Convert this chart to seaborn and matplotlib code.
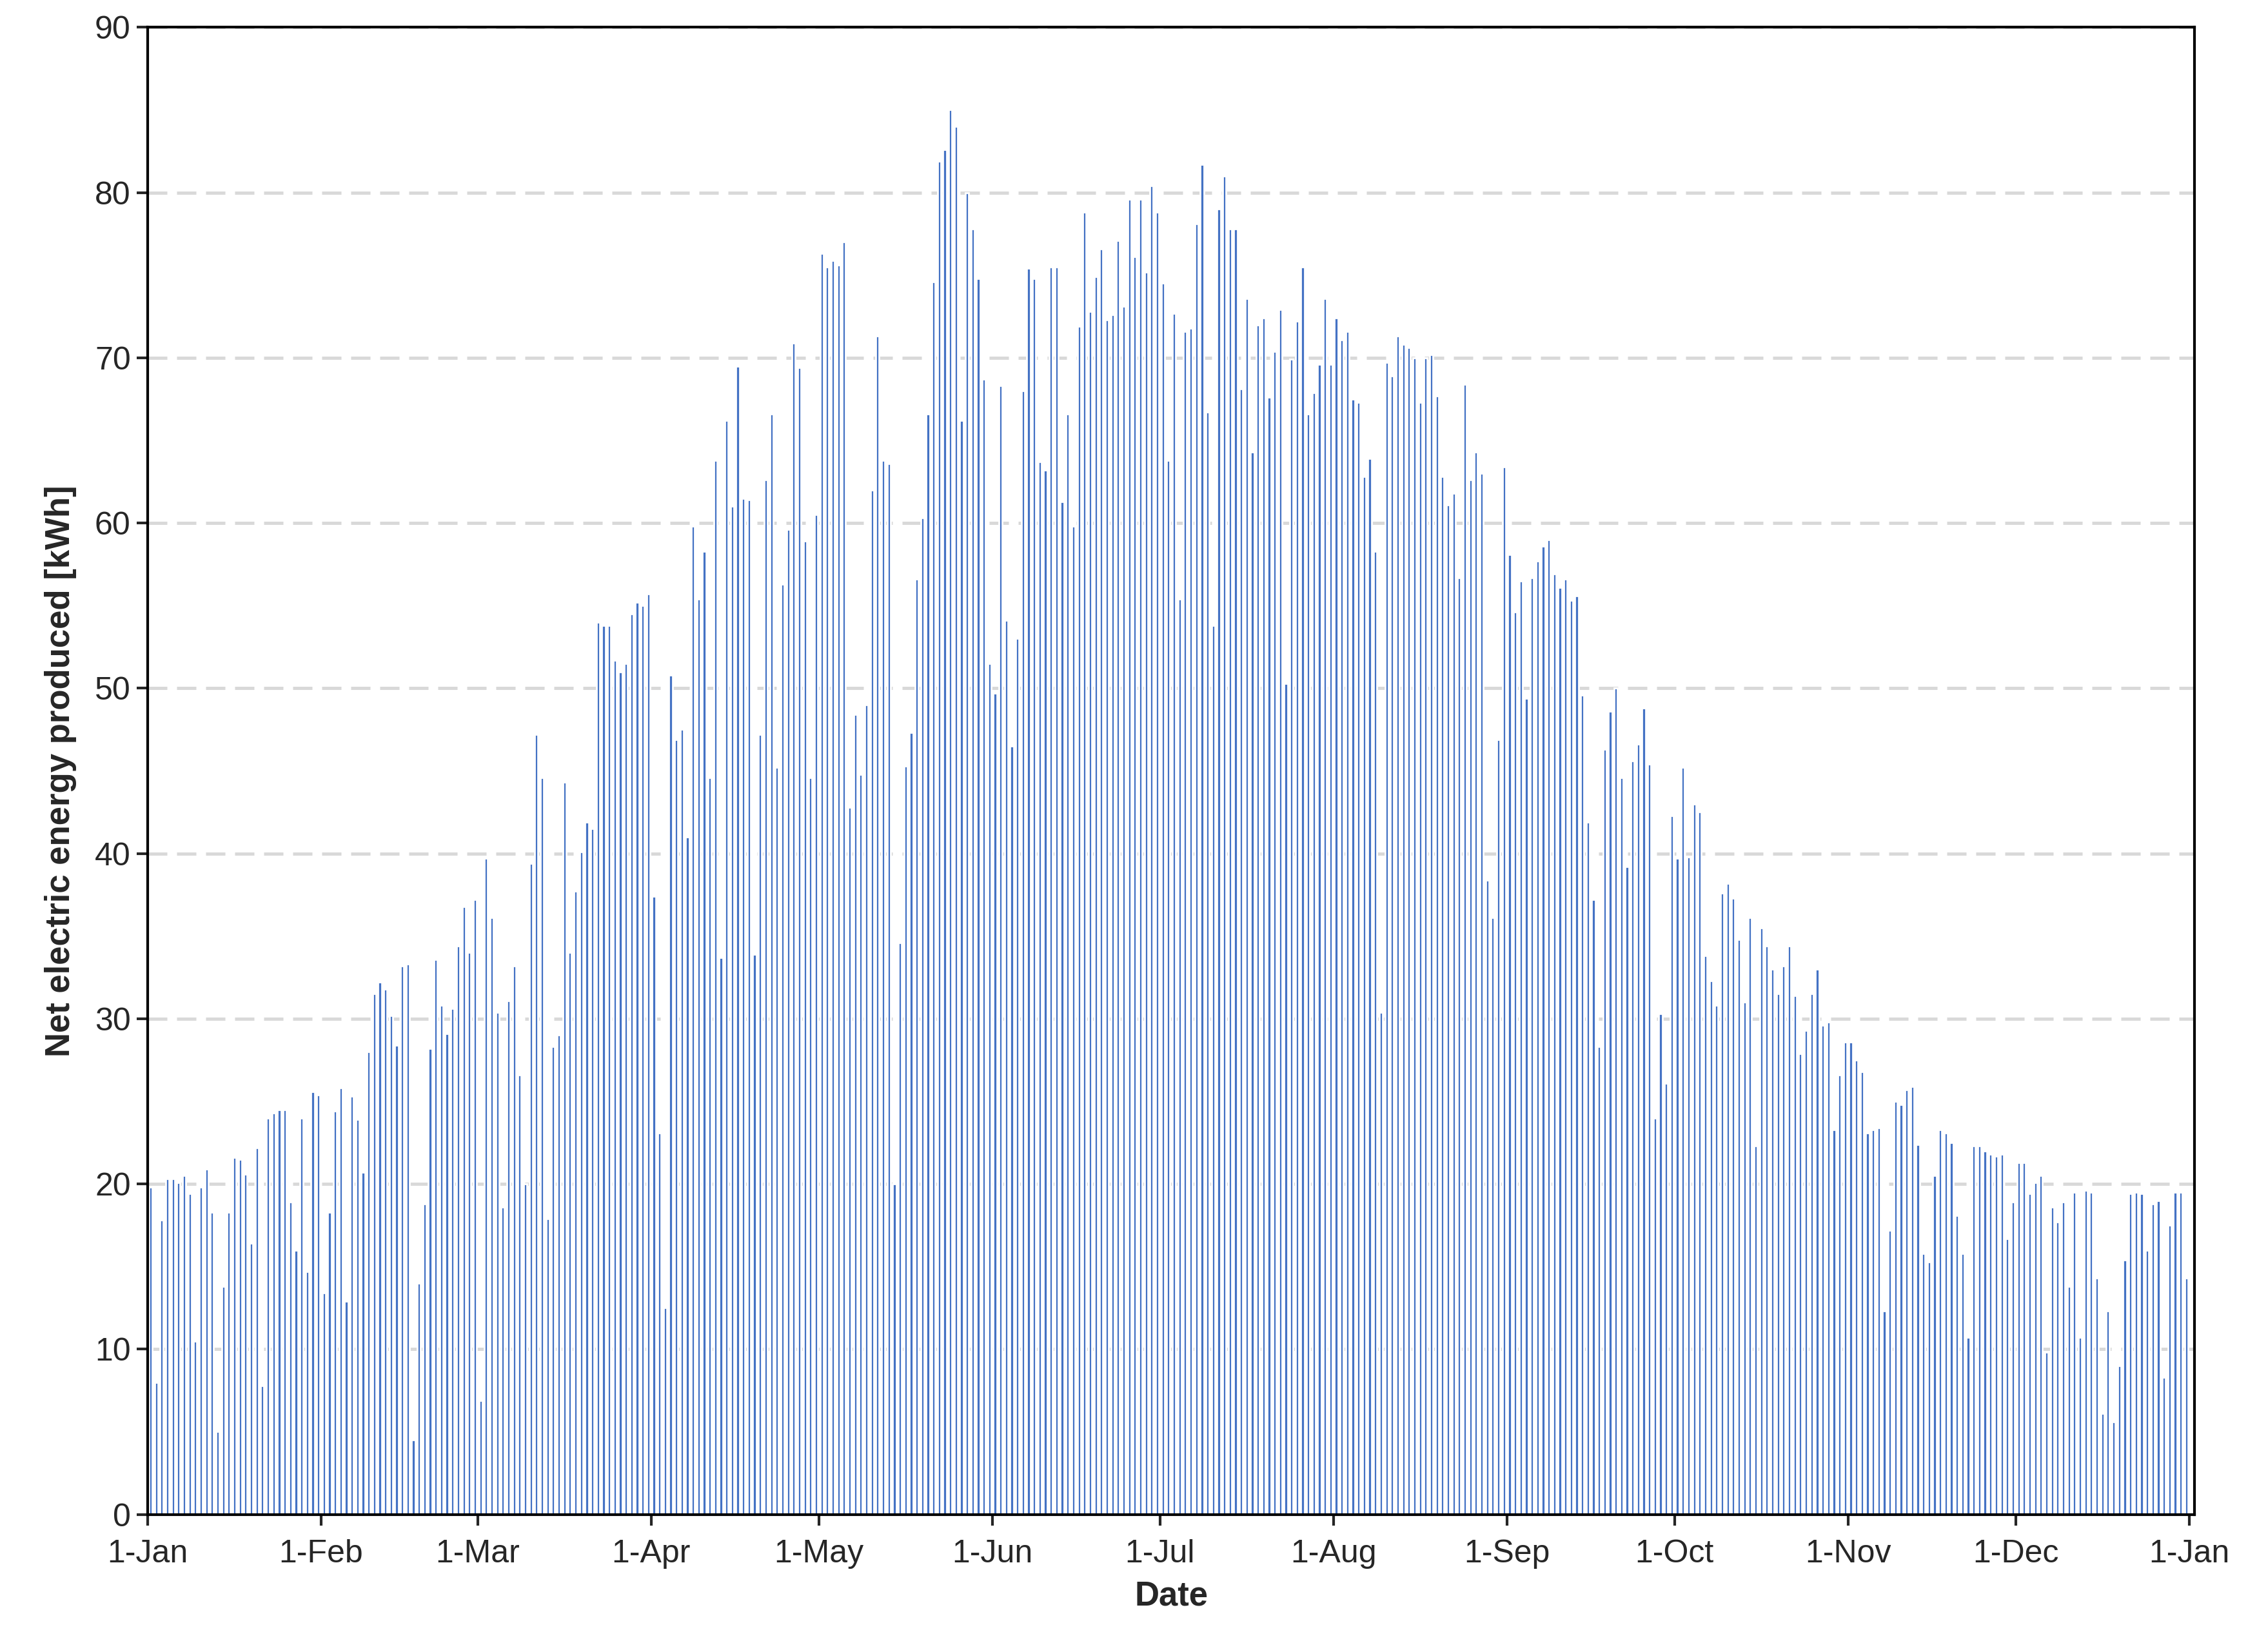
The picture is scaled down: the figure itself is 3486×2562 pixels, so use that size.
import numpy as np
import pandas as pd
import matplotlib
matplotlib.use("Agg")
import matplotlib.pyplot as plt
import seaborn as sns

jan = [19.8, 8, 17.8, 20.3, 20.3, 20.1, 20.5, 19.4, 10.5, 19.8, 20.9, 18.3, 5, 13.8, 18.3, 21.6, 21.5, 20.6, 16.4, 22.2, 7.8, 24, 24.3, 24.5, 24.5, 18.9, 16, 24, 14.7, 25.6, 25.4]
feb = [13.4, 18.3, 24.4, 25.8, 12.9, 25.3, 23.9, 20.7, 28, 31.5, 32.2, 31.8, 30.2, 28.4, 33.2, 33.3, 4.5, 14, 18.8, 28.2, 33.6, 30.8, 29.1, 30.6, 34.4, 36.8, 34, 37.2]
mar = [6.9, 39.7, 36.1, 30.4, 18.6, 31.1, 33.2, 26.6, 20, 39.4, 47.2, 44.6, 17.9, 28.3, 29, 44.3, 34, 37.7, 40.1, 41.9, 41.5, 54, 53.8, 53.8, 51.7, 51, 51.5, 54.5, 55.2, 55, 55.7]
apr = [37.4, 23.1, 12.5, 50.8, 46.9, 47.5, 41, 59.8, 55.4, 58.3, 44.6, 63.8, 33.7, 66.2, 61, 69.5, 61.5, 61.4, 33.9, 47.2, 62.6, 66.6, 45.2, 56.3, 59.6, 70.9, 69.4, 58.9, 44.6, 60.5]
may = [76.3, 75.5, 75.9, 75.6, 77, 42.8, 48.4, 44.8, 49, 62, 71.3, 63.8, 63.6, 20, 34.6, 45.3, 47.3, 56.6, 60.3, 66.6, 74.6, 81.9, 82.6, 85, 84, 66.2, 80, 77.8, 74.8, 68.7, 51.5]
jun = [49.7, 68.3, 54.1, 46.5, 53, 68, 75.4, 74.8, 63.7, 63.2, 75.5, 75.5, 61.3, 66.6, 59.8, 71.9, 78.8, 72.8, 74.9, 76.6, 72.3, 72.6, 77.1, 73.1, 79.6, 76.1, 79.6, 75.2, 80.4, 78.8]
jul = [74.5, 63.8, 72.7, 55.4, 71.6, 71.8, 78.1, 81.7, 66.7, 53.8, 79, 81, 77.8, 77.8, 68.1, 73.6, 64.3, 72, 72.4, 67.6, 70.4, 72.9, 50.3, 69.9, 72.2, 75.5, 66.6, 67.9, 69.6, 73.6, 69.6]
aug = [72.4, 71.1, 71.6, 67.5, 67.3, 62.8, 63.9, 58.3, 30.4, 69.7, 68.9, 71.3, 70.8, 70.6, 70, 67.3, 70, 70.2, 67.7, 62.8, 61.1, 61.8, 56.7, 68.4, 62.6, 64.3, 63, 38.4, 36.1, 46.9, 63.4]
sep = [58.1, 54.6, 56.5, 49.4, 56.7, 57.7, 58.6, 59, 56.9, 56.1, 56.6, 55.3, 55.6, 49.6, 41.9, 37.2, 28.3, 46.3, 48.6, 50, 44.6, 39.2, 45.6, 46.6, 48.8, 45.4, 24, 30.3, 26.1, 42.3]
oct_ = [39.7, 45.2, 39.8, 43, 42.5, 33.8, 32.3, 30.8, 37.6, 38.2, 37.3, 34.8, 31, 36.1, 22.3, 35.5, 34.4, 33, 31.5, 33.2, 34.4, 31.4, 27.9, 29.3, 31.5, 33, 29.6, 29.8, 23.3, 26.6, 28.6]
nov = [28.6, 27.5, 26.8, 23.1, 23.3, 23.4, 12.3, 17.2, 25, 24.8, 25.7, 25.9, 22.4, 15.8, 15.3, 20.5, 23.3, 23.1, 22.5, 18.1, 15.8, 10.7, 22.3, 22.3, 22, 21.8, 21.7, 21.8, 16.7, 18.9]
dec = [21.3, 21.3, 19.4, 20.1, 20.5, 9.8, 18.6, 17.7, 18.9, 13.8, 19.5, 10.7, 19.6, 19.5, 14.3, 6.1, 12.3, 5.6, 9, 15.4, 19.4, 19.5, 19.4, 16, 18.8, 19, 8.3, 17.5, 19.5, 19.5, 14.3]

month_labels = ["1-Jan", "1-Feb", "1-Mar", "1-Apr", "1-May", "1-Jun", "1-Jul",
                "1-Aug", "1-Sep", "1-Oct", "1-Nov", "1-Dec", "1-Jan"]

months = [jan, feb, mar, apr, may, jun, jul, aug, sep, oct_, nov, dec]
energy = np.concatenate(months)
day = np.arange(len(energy)) + 0.5
df = pd.DataFrame({"day": day, "energy": energy})
month_starts = np.concatenate([[0], np.cumsum([len(m) for m in months])])

sns.set_style("white")
plt.rcParams["font.family"] = ["Liberation Sans", "DejaVu Sans"]

fig = plt.figure(figsize=(17.435, 12.81), dpi=200)
ax = fig.add_axes([0.0657, 0.0833, 0.9103, 0.9002])
ax.yaxis.grid(True, color="#d9d9d9", linestyle=(0, (6, 3)), linewidth=1.8)
ax.set_axisbelow(True)
sns.barplot(data=df, x="day", y="energy", native_scale=True, color="#4472c4",
            saturation=1, width=0.6, ax=ax)

ax.set_xlim(0, 366)
ax.set_ylim(0, 90)
ax.set_xticks(month_starts)
ax.set_xticklabels(month_labels)
ax.set_yticks(range(0, 91, 10))
ax.tick_params(axis="both", labelsize=18, direction="out", length=6, width=1.5,
               bottom=True, left=True)
ax.tick_params(axis="x", pad=8)
for s in ax.spines.values():
    s.set_color("black")
    s.set_linewidth(1.5)
ax.set_xlabel("Date", fontsize=19, fontweight="bold", labelpad=6)
ax.set_ylabel("Net electric energy produced [kWh]", fontsize=19, fontweight="bold", labelpad=10)

fig.savefig("out.png", dpi=200)
